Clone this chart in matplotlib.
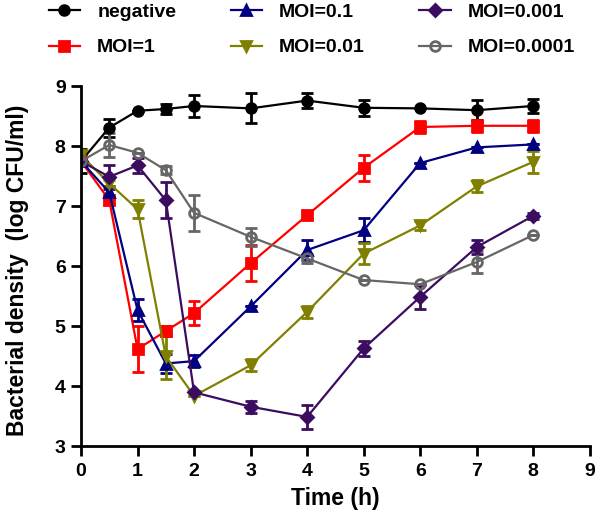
import numpy as np
import matplotlib
matplotlib.use("Agg")
import matplotlib.pyplot as plt

plt.rcParams['font.family'] = ['Liberation Sans', 'DejaVu Sans']
plt.rcParams['font.weight'] = 'bold'

# time points (h)
time_h = [0, 0.5, 1, 1.5, 2, 3, 4, 5, 6, 7, 8]

# log CFU/ml, mean and error for each group
negative = [7.75, 8.31, 8.59, 8.62, 8.67, 8.63, 8.76, 8.64, 8.63, 8.60, 8.67]
negative_err = [0.2, 0.15, 0.0, 0.08, 0.18, 0.25, 0.12, 0.13, 0.0, 0.17, 0.12]

moi_1 = [7.75, 7.10, 4.62, 4.92, 5.22, 6.05, 6.85, 7.64, 8.32, 8.34, 8.34]
moi_1_err = [0.05, 0.06, 0.38, 0.08, 0.2, 0.3, 0.05, 0.22, 0.1, 0.1, 0.1]

moi_01 = [7.75, 7.23, 5.27, 4.38, 4.42, 5.33, 6.27, 6.60, 7.72, 7.98, 8.03]
moi_01_err = [0.05, 0.1, 0.19, 0.15, 0.1, 0.0, 0.17, 0.2, 0.0, 0.0, 0.0]

moi_001 = [7.85, 7.38, 6.95, 4.50, 3.84, 4.35, 5.24, 6.21, 6.68, 7.33, 7.74]
moi_001_err = [0.05, 0.05, 0.15, 0.37, 0.0, 0.1, 0.1, 0.17, 0.08, 0.1, 0.18]

moi_0001 = [7.75, 7.49, 7.68, 7.10, 3.90, 3.66, 3.49, 4.63, 5.49, 6.32, 6.84]
moi_0001_err = [0.05, 0.2, 0.12, 0.3, 0.0, 0.1, 0.2, 0.12, 0.2, 0.12, 0.05]

moi_00001 = [7.75, 8.02, 7.89, 7.60, 6.89, 6.49, 6.13, 5.77, 5.70, 6.07, 6.52]
moi_00001_err = [0.05, 0.2, 0.0, 0.07, 0.3, 0.15, 0.08, 0.0, 0.0, 0.18, 0.0]

labels = ["negative", "MOI=1", "MOI=0.1", "MOI=0.01", "MOI=0.001", "MOI=0.0001"]
colors = ["black", "#ff0000", "#000080", "#808000", "#3b0c5f", "#666666"]
markers = ["o", "s", "^", "v", "D", "o"]

fig = plt.figure(figsize=(6, 5.16), dpi=100)
ax = fig.add_axes([0.135, 0.135, 0.848, 0.698])

series = [(negative, negative_err), (moi_1, moi_1_err), (moi_01, moi_01_err),
          (moi_001, moi_001_err), (moi_0001, moi_0001_err), (moi_00001, moi_00001_err)]

handles = []
for (vals, err), lab, col, mk in zip(series, labels, colors, markers):
    ms = 6 if mk == "D" else 7
    mfc = "none" if lab == "MOI=0.0001" else col
    cont = ax.errorbar(time_h, vals, yerr=err, color=col, marker=mk, markersize=ms,
                       markerfacecolor=mfc, markeredgewidth=2, linewidth=1.6,
                       elinewidth=2, capsize=4.5, capthick=2.5, label=lab)
    handles.append(cont[0])

ax.set_xlim(0, 9)
ax.set_ylim(3, 9)
ax.set_xticks(range(0, 10))
ax.set_yticks(range(3, 10))
for s in ["top", "right"]:
    ax.spines[s].set_visible(False)
for s in ["left", "bottom"]:
    ax.spines[s].set_linewidth(2)
ax.tick_params(width=2, length=7, labelsize=14)
ax.tick_params(axis="x", pad=5)
ax.tick_params(axis="y", pad=4)
for t in ax.get_xticklabels() + ax.get_yticklabels():
    t.set_fontweight("bold")

ax.set_xlabel("Time (h)", fontsize=16.5, fontweight="bold", labelpad=5)
ax.set_ylabel("Bacterial density  (log CFU/ml)", fontsize=16.5, fontweight="bold")
ax.yaxis.set_label_coords(-0.103, 0.49)

fig.legend(handles=handles, labels=labels, loc="upper left", bbox_to_anchor=(0.068, 1.008),
           ncol=3, frameon=False, fontsize=14, handlelength=1.6, handletextpad=0.9,
           columnspacing=2.8, labelspacing=0.9, borderaxespad=0, numpoints=1)

fig.savefig("out.png", dpi=100)
